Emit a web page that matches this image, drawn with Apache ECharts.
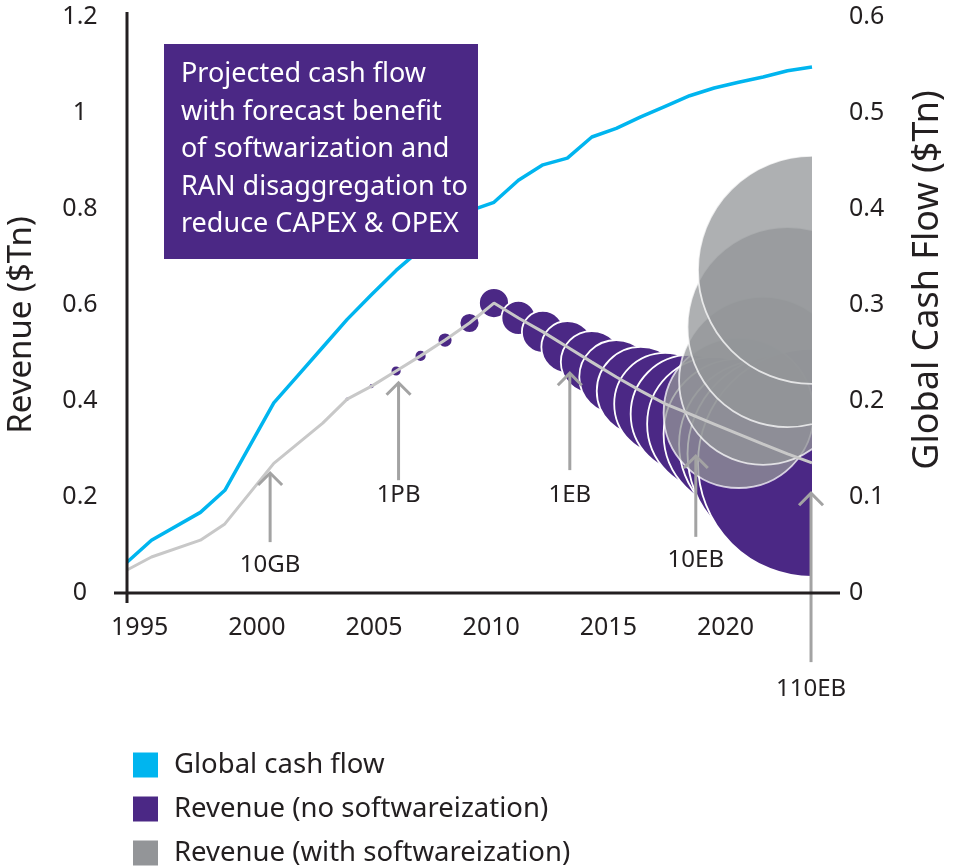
<!DOCTYPE html>
<html>
<head>
<meta charset="utf-8">
<script src="https://cdn.jsdelivr.net/npm/echarts@6/dist/echarts.min.js"></script>
<style>
  html, body { margin: 0; padding: 0; background: #ffffff; }
  #chart { width: 957px; height: 868px; }
</style>
</head>
<body>
<div id="chart"></div>
<script>
// ---- data -------------------------------------------------------------
const xTickLabels = [1995, 2000, 2005, 2010, 2015, 2020];

// Global cash flow, $Tn (right axis)
const cashFlowYears  = [1995, 1996, 1998, 1999, 2001, 2002, 2003, 2004, 2005, 2006, 2007, 2008, 2009,
                        2010, 2011, 2012, 2013, 2014, 2015, 2016, 2017, 2018, 2019, 2020, 2021, 2022, 2023];
const cashFlowValues = [0.032, 0.055, 0.084, 0.107, 0.198, 0.227, 0.256, 0.285, 0.311, 0.336, 0.358, 0.377, 0.398,
                        0.407, 0.430, 0.446, 0.453, 0.475, 0.484, 0.496, 0.507, 0.518, 0.526, 0.532, 0.5375, 0.544, 0.548];

// Revenue, $Tn (left axis)
const revenueYears  = [1995, 1996, 1998, 1999, 2001, 2003, 2004, 2005, 2006, 2007, 2008, 2009, 2010,
                       2011, 2012, 2013, 2014, 2015, 2016, 2017, 2018, 2019, 2020, 2021, 2022, 2023];
const revenueValues = [0.048, 0.075, 0.110, 0.144, 0.270, 0.354, 0.404, 0.431, 0.4625, 0.494, 0.527, 0.5625, 0.604,
                       0.573, 0.544, 0.5125, 0.481, 0.450, 0.421, 0.394, 0.373, 0.352, 0.331, 0.310, 0.290, 0.271];

// Data traffic per year, as a relative bubble scale
const trafficYears = [2004, 2005, 2006, 2007, 2008, 2009, 2010, 2011, 2012, 2013,
                      2014, 2015, 2016, 2017, 2018, 2019, 2020, 2021, 2022, 2023];
const trafficScale = [2.5, 3, 5.5, 6, 7.5, 10, 15, 17, 21, 26,
                      31, 37, 44, 51, 59, 67, 75, 84, 100, 114];

// Revenue with softwareization, $Tn (left axis)
const softwareYears   = [2020, 2021, 2022, 2023];
const softwareRevenue = [0.375, 0.442, 0.554, 0.673];

// Traffic milestones
const milestoneLabels = ['10GB', '1PB', '1EB', '10EB', '110EB'];
const milestoneYears  = [2000.85, 2006.1, 2013.1, 2018.25, 2022.96];
const milestoneTips   = [0.252, 0.440, 0.460, 0.2875, 0.210];
const milestoneTails  = [0.106, 0.235, 0.256, 0.117, -0.144];
const milestoneTextAt = [0.058, 0.204, 0.204, 0.069, -0.200];

// ---- styling ----------------------------------------------------------
const FONT = '"Noto Sans", "Open Sans", sans-serif';
const INK = '#231f20';
const BLUE = '#00b5ef';
const PURPLE = '#4b2885';
const GREY = '#939598';
const TREND = '#c8c8c8';
const ARROW = '#a3a3a3';

const revenueAt = y => revenueValues[revenueYears.indexOf(y)];
const scaleAt = y => trafficScale[trafficYears.indexOf(y)];

const purpleBubbles = trafficYears.map((y, i) => [y, revenueAt(y), trafficScale[i]]);
const greyBubbles = softwareYears.map((y, i) => [y, softwareRevenue[i], scaleAt(y)]);

function bubbleRenderer(fill, opacity) {
  return function (params, api) {
    const c = api.coord([api.value(0), api.value(1)]);
    return {
      type: 'circle',
      shape: { cx: c[0], cy: c[1], r: api.value(2) },
      style: { fill: fill, stroke: '#ffffff', lineWidth: 1.8, opacity: opacity }
    };
  };
}

function arrowRenderer(params, api) {
  const x = api.value(0);
  const tip = api.coord([x, api.value(1)]);
  const tail = api.coord([x, api.value(2)]);
  const txt = api.coord([x, api.value(3)]);
  return {
    type: 'group',
    children: [
      { type: 'line', shape: { x1: tail[0], y1: tail[1], x2: tip[0], y2: tip[1] + 1 },
        style: { stroke: ARROW, lineWidth: 3 } },
      { type: 'polyline',
        shape: { points: [[tip[0] - 12, tip[1] + 13], [tip[0], tip[1] + 1], [tip[0] + 12, tip[1] + 13]] },
        style: { stroke: ARROW, lineWidth: 3, fill: null } },
      { type: 'text',
        style: { text: milestoneLabels[params.dataIndex], x: txt[0], y: txt[1],
                 align: 'center', verticalAlign: 'middle',
                 font: '24px ' + FONT, fill: INK } }
    ]
  };
}

const chart = echarts.init(document.getElementById('chart'), null, { renderer: 'canvas' });

const option = {
  animation: false,
  backgroundColor: '#ffffff',
  textStyle: { fontFamily: FONT, color: INK },
  grid: { left: 127, right: 145, top: 17, bottom: 275, containLabel: false },
  xAxis: [
    { type: 'value', min: 1995, max: 2023, show: false },
    // year labels, spaced slightly tighter than the plotted years
    { type: 'value', min: 1994.46, max: 2023.69, position: 'bottom',
      axisLine: { show: false }, axisTick: { show: false }, splitLine: { show: false },
      axisLabel: { customValues: xTickLabels, margin: 22, fontSize: 25, fontFamily: FONT, color: INK,
                   formatter: v => String(v) } }
  ],
  yAxis: [
    { type: 'value', min: 0, max: 1.2, interval: 0.2, position: 'left',
      axisLine: { show: false }, axisTick: { show: false }, splitLine: { show: false },
      axisLabel: { margin: 47, align: 'center', fontSize: 25, fontFamily: FONT, color: INK } },
    { type: 'value', min: 0, max: 0.6, interval: 0.1, position: 'right',
      axisLine: { show: false }, axisTick: { show: false }, splitLine: { show: false },
      axisLabel: { margin: 37, align: 'left', fontSize: 25, fontFamily: FONT, color: INK } }
  ],
  legend: {
    orient: 'vertical', left: 133, top: 751, width: 600, height: 140, padding: 0,
    itemWidth: 25, itemHeight: 25, itemGap: 16, icon: 'rect',
    selectedMode: false,
    textStyle: { fontFamily: FONT, fontSize: 27.5, color: INK, lineHeight: 25, padding: [0, 0, 0, 11] },
    data: [
      { name: 'Global cash flow', itemStyle: { color: BLUE, borderWidth: 0, opacity: 1 } },
      { name: 'Revenue (no softwareization)', itemStyle: { color: PURPLE, borderWidth: 0, opacity: 1 } },
      { name: 'Revenue (with softwareization)', itemStyle: { color: GREY, borderWidth: 0, opacity: 1 } }
    ]
  },
  series: [
    { name: 'Revenue (no softwareization)', type: 'custom', xAxisIndex: 0, yAxisIndex: 0,
      clip: true, z: 2, itemStyle: { color: PURPLE },
      renderItem: bubbleRenderer(PURPLE, 1), data: purpleBubbles },
    { name: 'Revenue (with softwareization)', type: 'custom', xAxisIndex: 0, yAxisIndex: 0,
      clip: true, z: 3, itemStyle: { color: GREY },
      renderItem: bubbleRenderer(GREY, 0.75), data: greyBubbles },
    { name: 'Revenue', type: 'line', xAxisIndex: 0, yAxisIndex: 0, z: 4,
      showSymbol: false, symbol: 'none',
      lineStyle: { color: TREND, width: 3 }, itemStyle: { color: TREND },
      data: revenueYears.map((y, i) => [y, revenueValues[i]]) },
    { name: 'Global cash flow', type: 'line', xAxisIndex: 0, yAxisIndex: 1, z: 5,
      showSymbol: false, symbol: 'none',
      lineStyle: { color: BLUE, width: 3.5 }, itemStyle: { color: BLUE },
      data: cashFlowYears.map((y, i) => [y, cashFlowValues[i]]) },
    { name: 'Traffic milestones', type: 'custom', xAxisIndex: 0, yAxisIndex: 0,
      clip: false, z: 6, renderItem: arrowRenderer,
      data: milestoneYears.map((y, i) => [y, milestoneTips[i], milestoneTails[i], milestoneTextAt[i]]) }
  ]
};

chart.setOption(option);

// axis lines with a small overhang past the origin
const origin = chart.convertToPixel({ gridIndex: 0 }, [1995, 0]);
const topLeft = chart.convertToPixel({ gridIndex: 0 }, [1995, 1.2]);
const bottomRight = chart.convertToPixel({ gridIndex: 0 }, [2023, 0]);

chart.setOption({
  graphic: [
    { type: 'line', id: 'yAxisLine', z: 50,
      shape: { x1: origin[0], y1: topLeft[1] - 5, x2: origin[0], y2: origin[1] + 10 },
      style: { stroke: INK, lineWidth: 3 } },
    { type: 'line', id: 'xAxisLine', z: 50,
      shape: { x1: origin[0] - 13, y1: origin[1], x2: bottomRight[0] + 28, y2: origin[1] },
      style: { stroke: INK, lineWidth: 3 } },
    { type: 'text', id: 'leftTitle', z: 50, x: 22, y: 325, rotation: Math.PI / 2,
      style: { text: 'Revenue ($Tn)', font: '33px ' + FONT, fill: INK, align: 'center', verticalAlign: 'middle' } },
    { type: 'text', id: 'rightTitle', z: 50, x: 928, y: 280, rotation: Math.PI / 2,
      style: { text: 'Global Cash Flow ($Tn)', font: '36px ' + FONT, fill: INK, align: 'center', verticalAlign: 'middle' } },
    // note box drawn above the plotted lines
    { type: 'rect', id: 'noteBox', z: 100, zlevel: 0,
      shape: { x: 164, y: 44, width: 314, height: 215 }, style: { fill: PURPLE } },
    { type: 'text', id: 'noteText', z: 101, zlevel: 0, x: 181, y: 56,
      style: { text: 'Projected cash flow\nwith forecast benefit\nof softwarization and\nRAN disaggregation to\nreduce CAPEX & OPEX',
               font: '27px ' + FONT, fill: '#ffffff', lineHeight: 37.5 } }
  ]
});
</script>
</body>
</html>
